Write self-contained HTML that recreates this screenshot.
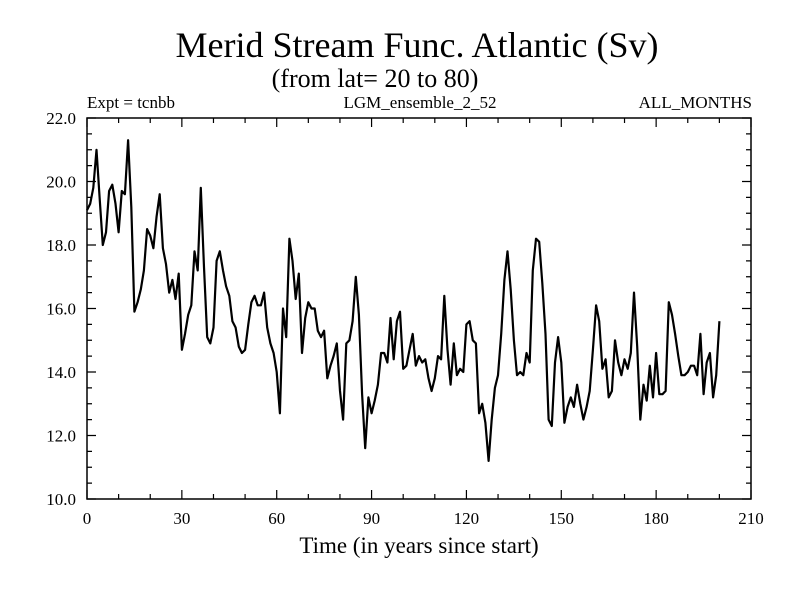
<!DOCTYPE html>
<html><head><meta charset="utf-8"><style>
body{margin:0;background:#fff}
svg text{font-family:"Liberation Serif",serif;fill:#000}
</style></head><body>
<svg id="c" width="800" height="600" xmlns="http://www.w3.org/2000/svg">
<rect width="800" height="600" fill="#fff"/>
<text x="417" y="57" font-size="36" text-anchor="middle">Merid Stream Func. Atlantic (Sv)</text>
<text x="375" y="87" font-size="26" text-anchor="middle">(from lat= 20 to 80)</text>
<text x="87" y="108" font-size="17">Expt = tcnbb</text>
<text x="420" y="108" font-size="17" text-anchor="middle">LGM_ensemble_2_52</text>
<text x="752" y="108" font-size="17" text-anchor="end">ALL_MONTHS</text>
<text x="419" y="553" font-size="23" text-anchor="middle">Time (in years since start)</text>
<g id="ax"></g>
</svg>
<script>
const xTicks=[0,30,60,90,120,150,180,210];
const yTicks=[10.0,12.0,14.0,16.0,18.0,20.0,22.0];
const years=[];for(let i=0;i<=200;i++)years.push(i);
const values=[19.1,19.3,19.8,21.0,19.5,18.0,18.4,19.7,19.9,19.3,18.4,19.7,19.6,21.3,19.2,15.9,16.2,16.6,17.2,18.5,
18.3,17.9,18.9,19.6,17.9,17.4,16.5,16.9,16.3,17.1,14.7,15.2,15.8,16.1,17.8,17.2,19.8,17.3,15.1,14.9,
15.4,17.5,17.8,17.2,16.7,16.4,15.6,15.4,14.8,14.6,14.7,15.5,16.2,16.4,16.1,16.1,16.5,15.4,14.9,14.6,
14.0,12.7,16.0,15.1,18.2,17.5,16.3,17.1,14.6,15.7,16.2,16.0,16.0,15.3,15.1,15.3,13.8,14.2,14.5,14.9,
13.4,12.5,14.9,15.0,15.6,17.0,15.8,13.3,11.6,13.2,12.7,13.1,13.6,14.6,14.6,14.3,15.7,14.4,15.6,15.9,
14.1,14.2,14.7,15.2,14.2,14.5,14.3,14.4,13.8,13.4,13.8,14.5,14.4,16.4,14.7,13.6,14.9,13.9,14.1,14.0,
15.5,15.6,15.0,14.9,12.7,13.0,12.4,11.2,12.5,13.5,13.9,15.2,16.9,17.8,16.6,15.0,13.9,14.0,13.9,14.6,
14.3,17.2,18.2,18.1,16.8,15.2,12.5,12.3,14.3,15.1,14.3,12.4,12.9,13.2,12.9,13.6,13.0,12.5,12.9,13.4,
14.7,16.1,15.6,14.1,14.4,13.2,13.4,15.0,14.3,13.9,14.4,14.1,14.6,16.5,14.8,12.5,13.6,13.1,14.2,13.2,
14.6,13.3,13.3,13.4,16.2,15.8,15.2,14.5,13.9,13.9,14.0,14.2,14.2,13.9,15.2,13.3,14.3,14.6,13.2,13.9,15.6];
const X0=87,X1=751,Y0=499,Y1=118;
const sx=v=>X0+(v-0)/(210-0)*(X1-X0);
const sy=v=>Y0-(v-10)/(22-10)*(Y0-Y1);
const NS="http://www.w3.org/2000/svg";
const g=document.getElementById('ax');
function mk(t,a){const e=document.createElementNS(NS,t);for(const k in a)e.setAttribute(k,a[k]);g.appendChild(e);return e;}
const frame=mk('rect',{x:X0,y:Y1,width:X1-X0,height:Y0-Y1,fill:'none',stroke:'#000','stroke-width':1.5});


let d='';
for(let v=0;v<=210;v+=10){const x=sx(v);const L=(v%30===0)?9:5;d+=`M${x},${Y0}v${-L}M${x},${Y1}v${L}`;}
for(let v=10;v<=22.001;v+=0.5){const y=sy(v);const L=(Math.abs(v%2)<0.01)?9:5;d+=`M${X0},${y}h${L}M${X1},${y}h${-L}`;}
const tk=mk('path',{d:d,stroke:'#000','stroke-width':1.2,fill:'none'});


xTicks.forEach(v=>{const t=mk('text',{x:sx(v),y:524,'font-size':17,'text-anchor':'middle'});t.textContent=v;

});
yTicks.forEach(v=>{const t=mk('text',{x:76,y:sy(v)+6,'font-size':17,'text-anchor':'end'});t.textContent=v.toFixed(1);

});
const pts=values.map((v,i)=>sx(years[i]).toFixed(1)+','+sy(v).toFixed(1)).join(' ');
const line=mk('polyline',{points:pts,fill:'none',stroke:'#000','stroke-width':2.2,'stroke-linejoin':'round'});


</script>
</body></html>
